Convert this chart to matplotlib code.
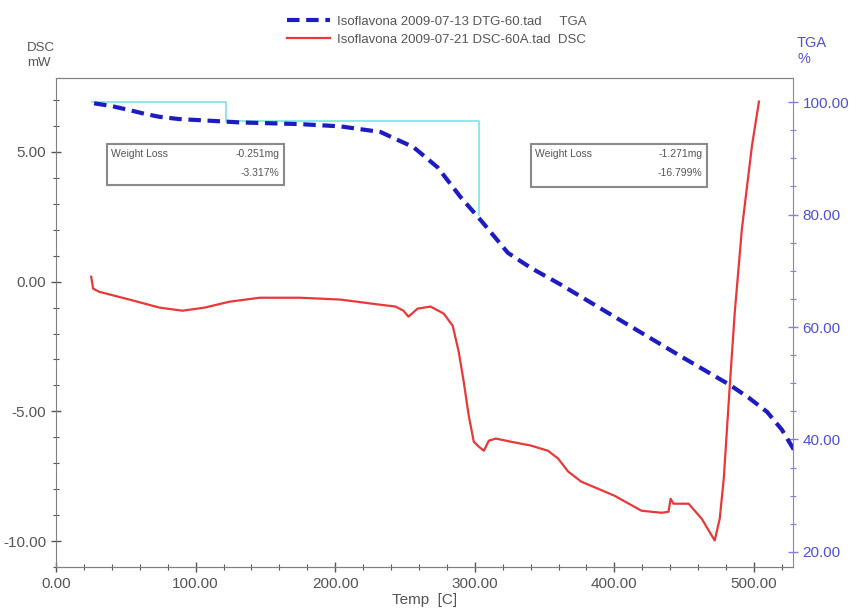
import matplotlib
matplotlib.use("Agg")
import matplotlib.pyplot as plt
from matplotlib.ticker import MultipleLocator, FormatStrFormatter
from matplotlib.patches import Rectangle

plt.rcParams['font.family'] = ['Liberation Sans', 'DejaVu Sans']

# datos DSC (Temp C, mW)
temp_dsc = [25.2, 26.6, 30.9, 52.5, 74.1, 90.6, 106.5, 124.5, 146.0, 174.8,
            203.6, 232.4, 243.2, 248.9, 252.5, 259.0, 268.3, 277.7, 284.2, 288.5,
            292.1, 295.7, 299.3, 302.9, 306.5, 310.1, 315.1, 325.9, 340.3, 352.5,
            359.7, 366.9, 376.3, 400.0, 419.4, 433.8, 438.8, 440.3, 442.4, 453.2,
            462.6, 471.9, 475.5, 478.4, 482.7, 486.3, 491.4, 498.6, 503.6]
dsc = [0.19, -0.27, -0.39, -0.69, -1.00, -1.12, -1.00, -0.77, -0.62, -0.62,
       -0.69, -0.89, -0.96, -1.12, -1.35, -1.04, -0.96, -1.23, -1.70, -2.70,
       -3.86, -5.17, -6.17, -6.36, -6.52, -6.13, -6.05, -6.17, -6.32, -6.52,
       -6.82, -7.32, -7.71, -8.25, -8.83, -8.91, -8.87, -8.37, -8.56, -8.56,
       -9.14, -9.98, -9.14, -7.59, -4.01, -1.16, 2.04, 5.24, 6.94]

# datos TGA (Temp C, %)
temp_tga = [27.3, 40.0, 52.5, 64.0, 74.1, 88.0, 102.9, 131.7, 174.8, 203.6,
            232.4, 256.1, 273.4, 289.9, 304.3, 323.7, 340.3, 361.9, 405.0, 448.2,
            482.7, 496.4, 509.4, 520.1, 529.5]
tga = [99.8, 99.3, 98.6, 97.9, 97.4, 97.0, 96.8, 96.4, 96.1, 95.7,
       94.7, 92.0, 88.4, 83.1, 79.0, 73.2, 70.5, 67.5, 61.1, 54.7,
       49.7, 47.4, 44.9, 41.7, 37.8]

# escalones de perdida de peso
paso1_t = [26.0, 121.6, 121.6]
paso1_y = [100.0, 100.0, 96.68]
paso2_t = [121.6, 302.9, 302.9]
paso2_y = [96.68, 96.68, 79.88]

cajas = [
    (36.7, 3.74, 126.6, 1.58, "-0.251mg", "-3.317%"),
    (340.3, 3.66, 125.9, 1.66, "-1.271mg", "-16.799%"),
]

gris = "#555555"
azul_txt = "#5050d0"

fig = plt.figure(figsize=(8.63, 6.10), dpi=100)
ax = fig.add_axes([0.0649, 0.0705, 0.854, 0.8016])
ax2 = ax.twinx()

l_dsc, = ax.plot(temp_dsc, dsc, color="#e83838", lw=1.6)
l_tga, = ax2.plot(temp_tga, tga, color="#1c1cc0", lw=3, dashes=(3, 1.6))
ax2.plot(paso1_t, paso1_y, color="#80e8e8", lw=1.3, zorder=1)
ax2.plot(paso2_t, paso2_y, color="#80e8e8", lw=1.3, zorder=1)

ax.set_xlim(0, 528)
ax.set_ylim(-11.0, 7.85)
ax2.set_ylim(17.3, 104.3)

ax.xaxis.set_major_locator(MultipleLocator(100))
ax.xaxis.set_minor_locator(MultipleLocator(20))
ax.yaxis.set_major_locator(MultipleLocator(5))
ax.yaxis.set_minor_locator(MultipleLocator(1))
ax2.yaxis.set_major_locator(MultipleLocator(20))
ax2.yaxis.set_minor_locator(MultipleLocator(5))
ax.xaxis.set_major_formatter(FormatStrFormatter("%.2f"))
ax.yaxis.set_major_formatter(FormatStrFormatter("%.2f"))
ax2.yaxis.set_major_formatter(FormatStrFormatter("%.2f"))

ax.tick_params(which="major", direction="inout", length=7, colors=gris, labelsize=11, width=1)
ax.tick_params(which="minor", direction="inout", length=4, colors=gris, width=0.8)
ax.tick_params(axis="x", pad=4)
ax2.tick_params(which="major", direction="inout", length=7, colors="#8080e0", labelcolor=azul_txt,
                labelsize=11, width=1)
ax2.tick_params(which="minor", direction="inout", length=4, colors="#8080e0", width=0.8)

for s in ["left", "bottom", "top"]:
    ax.spines[s].set_color("#808080")
    ax2.spines[s].set_color("#808080")
ax2.spines["right"].set_color("#8080e0")
ax.spines["right"].set_visible(False)
ax2.spines["left"].set_visible(False)

ax.set_xlabel("Temp  [C]", fontsize=11, color=gris, labelpad=1)

fig.text(27 / 863, 1 - 42 / 610, "DSC\nmW", fontsize=9.5, color=gris, va="top", ha="left",
         linespacing=1.3)
fig.text(797 / 863, 1 - 36 / 610, "TGA\n%", fontsize=10.5, color=azul_txt, va="top", ha="left",
         linespacing=1.2)

for x0, y0, w, h, mg, pct in cajas:
    ax.add_patch(Rectangle((x0, y0), w, h, fill=False, ec="#8a8a8a", lw=1.5, zorder=3))
    ax.text(x0 + 3, y0 + h - 0.2, "Weight Loss", fontsize=7.5, color=gris, va="top", ha="left")
    ax.text(x0 + w - 3, y0 + h - 0.2, mg, fontsize=7.5, color=gris, va="top", ha="right")
    ax.text(x0 + w - 3, y0 + h - 0.95, pct, fontsize=7.5, color=gris, va="top", ha="right")

fig.legend([l_tga, l_dsc],
           ["Isoflavona 2009-07-13 DTG-60.tad     TGA",
            "Isoflavona 2009-07-21 DSC-60A.tad  DSC"],
           loc="upper left", bbox_to_anchor=(282 / 863, 1 - 10 / 610), frameon=False,
           fontsize=9.5, labelcolor=gris, handlelength=3.2, handletextpad=0.6,
           labelspacing=0.45, borderaxespad=0)

fig.savefig("out.png", dpi=100)
